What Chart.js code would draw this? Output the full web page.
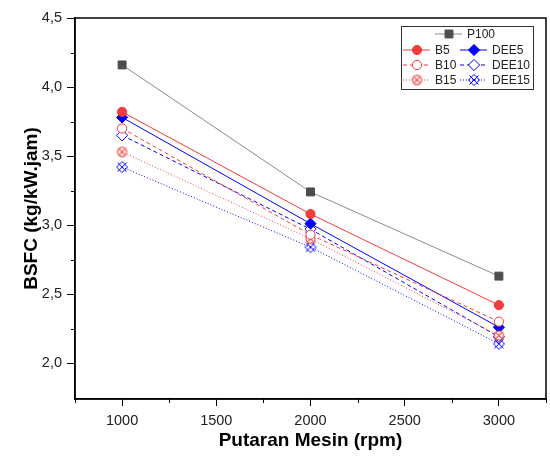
<!DOCTYPE html>
<html>
<head>
<meta charset="utf-8">
<script src="https://cdn.jsdelivr.net/npm/chart.js@4.4.1/dist/chart.umd.min.js"></script>
<style>
  html, body { margin: 0; padding: 0; background: #fff; overflow: hidden; }
  #wrap { width: 553px; height: 459px; }
  canvas { display: block; }
</style>
</head>
<body>
<div id="wrap"><canvas id="bsfc"></canvas></div>
<script>
// data
const rpm = [1000, 2000, 3000];
const p100 = [4.16, 3.24, 2.63];
const b5 = [3.82, 3.08, 2.42];
const b10 = [3.70, 2.93, 2.30];
const b15 = [3.53, 2.90, 2.20];
const dee5 = [3.78, 3.01, 2.26];
const dee10 = [3.65, 2.97, 2.19];
const dee15 = [3.42, 2.84, 2.14];

const xTicks = [1000, 1500, 2000, 2500, 3000];
const yTicks = [2.0, 2.5, 3.0, 3.5, 4.0, 4.5];

const FONT = "'Liberation Sans', Arial, sans-serif";
const RED = '#f03c3c';
const BLUE = '#0000ff';

// circle with a cross inside
function circleX(color) {
  const c = document.createElement('canvas');
  c.width = 13; c.height = 13;
  const g = c.getContext('2d');
  g.strokeStyle = color; g.lineWidth = 1.1;
  g.fillStyle = '#fff';
  g.beginPath(); g.arc(6.5, 6.5, 4.6, 0, Math.PI * 2); g.fill(); g.stroke();
  g.beginPath();
  g.moveTo(3.3, 3.3); g.lineTo(9.7, 9.7);
  g.moveTo(9.7, 3.3); g.lineTo(3.3, 9.7);
  g.stroke();
  return c;
}

// diamond with a cross over it
function diamondX(color) {
  const c = document.createElement('canvas');
  c.width = 14; c.height = 14;
  const g = c.getContext('2d');
  g.strokeStyle = color; g.lineWidth = 1;
  g.beginPath();
  g.moveTo(7, 1.5); g.lineTo(12.5, 7); g.lineTo(7, 12.5); g.lineTo(1.5, 7); g.closePath();
  g.stroke();
  g.beginPath();
  g.moveTo(2.5, 2.5); g.lineTo(11.5, 11.5);
  g.moveTo(11.5, 2.5); g.lineTo(2.5, 11.5);
  g.stroke();
  return c;
}

const pts = arr => rpm.map((r, i) => ({ x: r, y: arr[i] }));

function series(label, data, color, dash, style, radius, fill) {
  return {
    label: label,
    data: pts(data),
    borderColor: color,
    borderWidth: 1,
    borderDash: dash,
    pointStyle: style,
    pointRadius: radius,
    pointBorderWidth: 1,
    pointBorderColor: color,
    pointBackgroundColor: fill,
    tension: 0
  };
}

const datasets = [
  series('P100', p100, '#8a8a8a', [], 'rect', 5.6, '#4d4d4d'),
  series('B5', b5, RED, [], 'circle', 4.6, RED),
  series('B10', b10, RED, [4, 3], 'circle', 4.6, '#fff'),
  series('B15', b15, RED, [1, 2], circleX(RED), 6, RED),
  series('DEE5', dee5, BLUE, [], 'rectRot', 5.6, BLUE),
  series('DEE10', dee10, BLUE, [4, 3], 'rectRot', 5.6, '#fff'),
  series('DEE15', dee15, BLUE, [1, 2], diamondX(BLUE), 6, BLUE)
];
datasets[0].pointBorderColor = '#4d4d4d';

// frame, minor ticks and the boxed legend
const framePlugin = {
  id: 'frame',
  afterDraw(chart) {
    const ctx = chart.ctx;
    const a = chart.chartArea;
    const xs = chart.scales.x, ys = chart.scales.y;
    ctx.save();
    ctx.strokeStyle = '#000';
    ctx.lineWidth = 1.5;
    ctx.strokeRect(a.left, a.top, a.right - a.left, a.bottom - a.top);
    ctx.lineWidth = 1;
    ctx.beginPath();
    [750, 1250, 1750, 2250, 2750, 3250].forEach(v => {
      const px = Math.round(xs.getPixelForValue(v)) + 0.5;
      ctx.moveTo(px, a.bottom); ctx.lineTo(px, a.bottom + 4);
    });
    [2.25, 2.75, 3.25, 3.75, 4.25].forEach(v => {
      const py = Math.round(ys.getPixelForValue(v)) + 0.5;
      ctx.moveTo(a.left, py); ctx.lineTo(a.left - 4, py);
    });
    ctx.stroke();

    // legend
    const bw = 132, bh = 63;
    const bx = a.right - 13 - bw, by = a.top + 8;
    ctx.fillStyle = '#fff';
    ctx.fillRect(bx, by, bw, bh);
    ctx.strokeStyle = '#333';
    ctx.strokeRect(bx + 0.5, by + 0.5, bw, bh);
    const rows = [
      [0, 34, 8], [1, 2, 24], [4, 59, 24],
      [2, 2, 39], [5, 59, 39], [3, 2, 54], [6, 59, 54]
    ];
    rows.forEach(([i, dx, dy]) => {
      const ds = datasets[i];
      const x0 = bx + dx, y0 = by + dy;
      ctx.save();
      ctx.strokeStyle = ds.borderColor;
      ctx.lineWidth = 1;
      ctx.setLineDash(ds.borderDash);
      ctx.beginPath(); ctx.moveTo(x0, y0); ctx.lineTo(x0 + 27, y0); ctx.stroke();
      ctx.setLineDash([]);
      ctx.fillStyle = ds.pointBackgroundColor;
      ctx.strokeStyle = ds.pointBorderColor;
      Chart.helpers.drawPoint(ctx, {
        pointStyle: ds.pointStyle, radius: ds.pointRadius, borderWidth: 1, rotation: 0
      }, x0 + 14, y0);
      ctx.restore();
      ctx.fillStyle = '#222';
      ctx.font = '12px ' + FONT;
      ctx.textBaseline = 'middle';
      ctx.fillText(ds.label, x0 + 32, y0 + 1);
    });
    ctx.restore();
  }
};

new Chart(document.getElementById('bsfc'), {
  type: 'line',
  data: { datasets: datasets },
  plugins: [framePlugin],
  options: {
    responsive: true,
    maintainAspectRatio: false,
    animation: false,
    layout: { padding: { top: 18, right: 0, left: 20, bottom: 7 } },
    plugins: { legend: { display: false }, tooltip: { enabled: false } },
    scales: {
      x: {
        type: 'linear',
        min: 750,
        max: 3250,
        afterBuildTicks: axis => { axis.ticks = xTicks.map(v => ({ value: v })); },
        afterFit: axis => { axis.height = 53; },
        grid: { drawOnChartArea: false, tickLength: 7, tickColor: '#000', tickWidth: 1 },
        border: { display: true, color: '#000', width: 1.5 },
        ticks: {
          color: '#222', padding: 6, font: { family: FONT, size: 14.5 }, maxRotation: 0,
          callback: v => String(v)
        },
        title: {
          display: true, text: 'Putaran Mesin (rpm)', color: '#000',
          font: { family: FONT, size: 19, weight: 'bold' }, padding: 0
        }
      },
      y: {
        min: 1.74,
        max: 4.5,
        afterBuildTicks: axis => { axis.ticks = yTicks.map(v => ({ value: v })); },
        afterFit: axis => { axis.width = 55; },
        grid: { drawOnChartArea: false, tickLength: 8, tickColor: '#000', tickWidth: 1 },
        border: { display: true, color: '#000', width: 1.5 },
        ticks: {
          color: '#222', padding: 5, font: { family: FONT, size: 14.5 },
          callback: v => v.toFixed(1).replace('.', ',')
        },
        title: {
          display: true, text: 'BSFC (kg/kW.jam)', color: '#000',
          font: { family: FONT, size: 19, weight: 'bold' }, padding: 0
        }
      }
    }
  }
});
</script>
</body>
</html>
